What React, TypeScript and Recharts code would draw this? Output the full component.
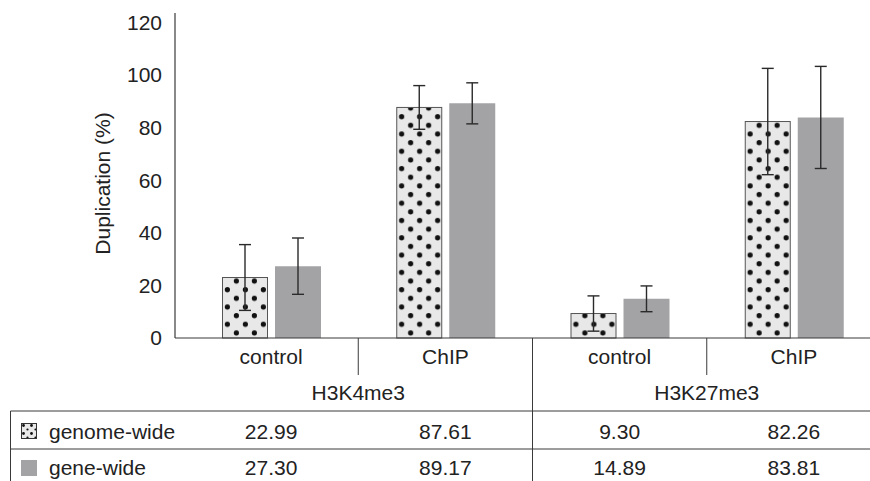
import React from "react";
import {
  Bar,
  BarChart,
  Customized,
  ErrorBar,
  XAxis,
  YAxis,
} from "recharts";

// categories along the axis, grouped by histone mark
const categories = ["control", "ChIP", "control", "ChIP"];
const groups = ["H3K4me3", "H3K27me3"];

// duplication rate (%), with error bar half-widths
const genomeWide = [22.99, 87.61, 9.3, 82.26];
const geneWide = [27.3, 89.17, 14.89, 83.81];
const genomeErr = [12.5, 8.3, 6.7, 20.2];
const geneErr = [10.7, 7.8, 4.9, 19.4];

const seriesNames = ["genome-wide", "gene-wide"];
const yTicks = [0, 20, 40, 60, 80, 100, 120];

const data = categories.map((c, i) => ({
  name: `${c}-${i}`,
  genome: genomeWide[i],
  gene: geneWide[i],
  genomeErr: genomeErr[i],
  geneErr: geneErr[i],
}));

const W = 890;
const H = 481;
const LEFT = 175;
const TOP = 13;
const BOTTOM = 338;
const RIGHT_MARGIN = 9;
const X_PAD = 9;
const BAND = (W - RIGHT_MARGIN - LEFT - X_PAD) / categories.length;

const FONT = "'Liberation Sans', Arial, sans-serif";
const TEXT = "#222";
const LINE = "#3a3a3a";
const DOT_BG = "#e8e8e8";
const GENE_FILL = "#a3a3a6";

const ROW1_Y = 431;
const ROW2_Y = 467;

// dotted fill, anchored at each bar's bottom-left corner
function DottedBar(props: any) {
  const { x, y, width, height, index } = props;
  if (!height || height <= 0) return null;
  const id = `dots-${index}`;
  return (
    <g>
      <defs>
        <pattern
          id={id}
          patternUnits="userSpaceOnUse"
          x={x}
          y={y + height}
          width={18}
          height={17.3}
        >
          <rect width={18} height={17.3} fill={DOT_BG} />
          <circle cx={5.4} cy={3.6} r={2.6} fill="#111" />
          <circle cx={14.4} cy={12.3} r={2.6} fill="#111" />
        </pattern>
      </defs>
      <rect
        x={x + 0.5}
        y={y}
        width={width - 1}
        height={height}
        fill={`url(#${id})`}
        stroke="#555"
        strokeWidth={1}
      />
    </g>
  );
}

function CategoryTick(props: any) {
  const { x, y, index } = props;
  const half = BAND / 2;
  return (
    <g fontFamily={FONT} fontSize={21} fill={TEXT}>
      <text x={x} y={y + 18} textAnchor="middle" dominantBaseline="central">
        {categories[index]}
      </text>
      {index % 2 === 0 && (
        <>
          <line x1={x + half} x2={x + half} y1={y} y2={y + 37} stroke={LINE} />
          <text
            x={x + half}
            y={y + 54}
            textAnchor="middle"
            dominantBaseline="central"
          >
            {groups[index / 2]}
          </text>
        </>
      )}
      {index === 1 && (
        <line x1={x + half} x2={x + half} y1={y} y2={H} stroke={LINE} />
      )}
      <text x={x} y={ROW1_Y} textAnchor="middle" dominantBaseline="central">
        {genomeWide[index].toFixed(2)}
      </text>
      <text x={x} y={ROW2_Y} textAnchor="middle" dominantBaseline="central">
        {geneWide[index].toFixed(2)}
      </text>
    </g>
  );
}

// table frame and series keys under the axis
function TableFrame() {
  return (
    <g fontFamily={FONT} fontSize={21} fill={TEXT}>
      <line x1={10.5} x2={870} y1={411} y2={411} stroke={LINE} />
      <line x1={10.5} x2={870} y1={449} y2={449} stroke={LINE} />
      <line x1={10.5} x2={10.5} y1={411} y2={H} stroke={LINE} />
      <defs>
        <pattern
          id="key-dots"
          patternUnits="userSpaceOnUse"
          x={21}
          y={423}
          width={8}
          height={8}
        >
          <rect width={8} height={8} fill={DOT_BG} />
          <circle cx={2.5} cy={2.5} r={1.4} fill="#111" />
          <circle cx={6.5} cy={6.5} r={1.1} fill="#111" />
        </pattern>
      </defs>
      <rect
        x={21.5}
        y={423.5}
        width={15}
        height={15}
        fill="url(#key-dots)"
        stroke="#333"
      />
      <text x={49} y={ROW1_Y} dominantBaseline="central">
        {seriesNames[0]}
      </text>
      <rect x={21} y={460} width={16} height={16} fill={GENE_FILL} />
      <text x={49} y={ROW2_Y} dominantBaseline="central">
        {seriesNames[1]}
      </text>
    </g>
  );
}

export default function App() {
  return (
    <div
      style={{
        position: "absolute",
        left: 0,
        top: 0,
        width: 870,
        height: H,
        overflow: "hidden",
        background: "#fff",
      }}
    >
      <BarChart
        width={W}
        height={H}
        data={data}
        margin={{ top: TOP, right: RIGHT_MARGIN, left: 0, bottom: 0 }}
        barSize={46}
        barGap={7}
      >
        <XAxis
          dataKey="name"
          height={H - BOTTOM}
          interval={0}
          tickLine={false}
          tickSize={0}
          tickMargin={0}
          padding={{ left: X_PAD, right: 0 }}
          axisLine={{ stroke: LINE, strokeWidth: 1.2 }}
          tick={<CategoryTick />}
        />
        <YAxis
          width={LEFT}
          domain={[0, 123.5]}
          ticks={yTicks}
          tickLine={false}
          tickSize={0}
          tickMargin={13}
          axisLine={{ stroke: LINE, strokeWidth: 1.2 }}
          tick={{ fill: TEXT, fontSize: 21, fontFamily: FONT }}
          label={{
            value: "Duplication (%)",
            angle: -90,
            position: "insideLeft",
            offset: 103,
            dy: 8,
            style: {
              fill: TEXT,
              fontSize: 21,
              fontFamily: FONT,
              textAnchor: "middle",
            },
          }}
        />
        <Bar
          dataKey="genome"
          name={seriesNames[0]}
          shape={<DottedBar />}
          isAnimationActive={false}
        >
          <ErrorBar
            dataKey="genomeErr"
            width={6}
            stroke="#2a2a2a"
            strokeWidth={1.4}
            direction="y"
          />
        </Bar>
        <Bar
          dataKey="gene"
          name={seriesNames[1]}
          fill={GENE_FILL}
          isAnimationActive={false}
        >
          <ErrorBar
            dataKey="geneErr"
            width={6}
            stroke="#2a2a2a"
            strokeWidth={1.4}
            direction="y"
          />
        </Bar>
        <Customized component={TableFrame} />
      </BarChart>
    </div>
  );
}
